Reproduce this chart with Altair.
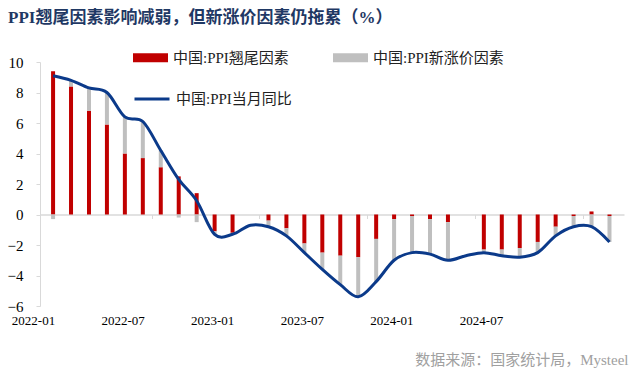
import altair as alt
import pandas as pd

months = ["2022-01", "2022-02", "2022-03", "2022-04", "2022-05", "2022-06",
          "2022-07", "2022-08", "2022-09", "2022-10", "2022-11", "2022-12",
          "2023-01", "2023-02", "2023-03", "2023-04", "2023-05", "2023-06",
          "2023-07", "2023-08", "2023-09", "2023-10", "2023-11", "2023-12",
          "2024-01", "2024-02", "2024-03", "2024-04", "2024-05", "2024-06",
          "2024-07", "2024-08"]
yoy = [9.1, 8.8, 8.3, 8.0, 6.4, 6.1, 4.2, 2.3, 0.9, -1.3, -1.3, -0.7,
       -0.8, -1.4, -2.5, -3.6, -4.6, -5.4, -4.4, -3.0, -2.5, -2.6, -3.0, -2.7,
       -2.5, -2.7, -2.8, -2.5, -1.4, -0.8, -0.8, -1.8]
carry = [9.4, 8.4, 6.8, 5.9, 4.0, 3.7, 3.1, 2.5, 1.4, -1.1, -1.2, None,
         -0.4, -0.9, -1.9, -2.5, -2.7, -2.8, -1.6, -0.3, -0.1, -0.3, -0.5, None,
         -2.3, -2.3, -2.2, -1.8, -0.8, -0.1, 0.2, -0.1]
newp = [-0.3, 0.4, 1.5, 2.1, 2.4, 2.4, 1.1, -0.2, -0.5, -0.2, -0.1, None,
        -0.4, -0.5, -0.6, -1.1, -1.9, -2.6, -2.8, -2.7, -2.4, -2.3, -2.5, None,
        -0.2, -0.4, -0.6, -0.7, -0.6, -0.7, -0.8, -1.7]
tick_labels = ["2022-01", "2022-07", "2023-01", "2023-07", "2024-01", "2024-07"]

S_RED = "中国:PPI翘尾因素"
S_GRAY = "中国:PPI新涨价因素"
S_LINE = "中国:PPI当月同比"
TITLE = "PPI翘尾因素影响减弱，但新涨价因素仍拖累（%）"
SOURCE = "数据来源：国家统计局，Mysteel"

RED = "#C00000"
GRAY = "#BFBFBF"
BLUE = "#0B3A8A"
AXIS_GRAY = "#D9D9D9"
SERIF = "Liberation Serif, Noto Sans CJK SC"

rows = []
for i, m in enumerate(months):
    if carry[i] is not None:
        rows.append({"idx": i, "month": m, "bar_series": S_RED, "value": carry[i], "ord": 0})
    if newp[i] is not None:
        rows.append({"idx": i, "month": m, "bar_series": S_GRAY, "value": newp[i], "ord": 1})
bars_df = pd.DataFrame(rows)
line_df = pd.DataFrame({"idx": list(range(len(months))), "month": months,
                        "value": yoy, "line_series": [S_LINE] * len(months)})
lab_df = pd.DataFrame({"label": tick_labels})

W, H = 584, 244
xscale = alt.Scale(domain=[-0.45, len(months) - 0.47], nice=False, zero=False)
yscale = alt.Scale(domain=[-6, 10], nice=False)

x_axis = alt.Axis(orient="bottom", offset=-H * 6 / 16, values=[5.5, 11.5, 17.5, 23.5, 29.5],
                  labels=False, ticks=True, tickSize=4, tickColor=AXIS_GRAY, tickWidth=1,
                  domainColor=AXIS_GRAY, domainWidth=1.5, grid=False, title=None)
y_axis = alt.Axis(values=list(range(-6, 11, 2)), grid=False, title=None,
                  domainColor=AXIS_GRAY, domainWidth=1, tickColor=AXIS_GRAY, tickSize=4,
                  labelFont=SERIF, labelFontSize=15, labelColor="#000000", labelPadding=13)

bars = alt.Chart(bars_df).mark_bar(size=4).encode(
    x=alt.X("idx:Q", scale=xscale, axis=x_axis),
    y=alt.Y("value:Q", scale=yscale, axis=y_axis, stack="zero"),
    color=alt.Color("bar_series:N",
                    scale=alt.Scale(domain=[S_RED, S_GRAY], range=[RED, GRAY]),
                    legend=alt.Legend(title=None, orient="none", legendX=93, legendY=-22,
                                      direction="horizontal", columns=2, columnPadding=44,
                                      symbolType="M-1,-0.26H1V0.26H-1Z", symbolSize=1225,
                                      symbolStrokeWidth=0, labelFont=SERIF, labelFontSize=15,
                                      labelColor="#222222", labelOffset=5, padding=0)),
    order=alt.Order("ord:Q"),
)

line = alt.Chart(line_df).mark_line(interpolate="cardinal", strokeWidth=3).encode(
    x=alt.X("idx:Q", scale=xscale, axis=x_axis),
    y=alt.Y("value:Q", scale=yscale, axis=y_axis),
    stroke=alt.Stroke("line_series:N",
                      scale=alt.Scale(domain=[S_LINE], range=[BLUE]),
                      legend=alt.Legend(title=None, orient="none", legendX=93, legendY=18,
                                        symbolType="stroke", symbolSize=1225, symbolStrokeWidth=3,
                                        labelFont=SERIF, labelFontSize=15, labelColor="#222222",
                                        labelOffset=5, padding=0)),
)

labels = alt.Chart(lab_df).mark_point(opacity=0).encode(
    x=alt.X("label:N", sort=tick_labels,
            scale=alt.Scale(type="point", range=[-7, 441], padding=0),
            axis=alt.Axis(orient="bottom", domain=False, ticks=False, grid=False,
                          labelFont=SERIF, labelFontSize=13, labelColor="#000000",
                          labelPadding=8, labelAngle=0,
                          title=SOURCE, titleX=588, titleY=53, titleAlign="right",
                          titleBaseline="middle", titleFont=SERIF, titleFontSize=15,
                          titleFontWeight="normal", titleColor="#A0A0A0")),
)

chart = alt.layer(alt.layer(bars, line), labels).resolve_scale(
    x="independent"
).properties(
    width=W, height=H,
    title=alt.Title(TITLE, anchor="start", font=SERIF, fontSize=17, fontWeight="bold",
                    color="#1F3864", dx=1, dy=-3, offset=10),
    autosize=alt.AutoSizeParams(type="none"),
    padding={"left": 40, "top": 62, "right": 16, "bottom": 69},
).configure_view(stroke=None)

chart.save("out.html", embed_options={"renderer": "svg", "actions": False})
